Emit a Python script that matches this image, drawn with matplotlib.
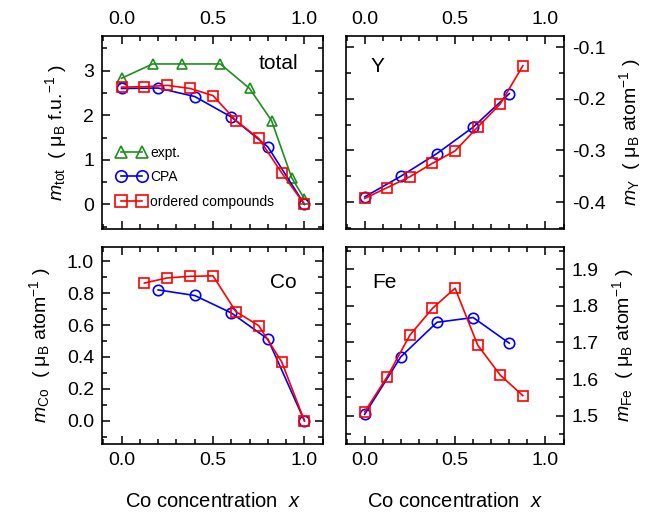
import numpy as np
import matplotlib
matplotlib.use('Agg')
import matplotlib.pyplot as plt
from matplotlib.ticker import MultipleLocator

plt.rcParams['font.family'] = ['Liberation Sans', 'DejaVu Sans']
plt.rcParams['mathtext.fontset'] = 'custom'
plt.rcParams['mathtext.rm'] = 'Liberation Sans'
plt.rcParams['mathtext.it'] = 'Liberation Sans:italic'
plt.rcParams['font.size'] = 14

# ---- data ----
x_expt = [0.0, 0.17, 0.33, 0.54, 0.70, 0.82, 0.93, 1.0]
tot_expt = [2.83, 3.15, 3.15, 3.15, 2.60, 1.88, 0.60, 0.12]

x_cpa = [0.0, 0.2, 0.4, 0.6, 0.8, 1.0]
tot_cpa = [2.60, 2.61, 2.42, 1.96, 1.29, 0.0]
co_cpa = [None, 0.82, 0.785, 0.676, 0.512, 0.0]
y_cpa = [-0.390, -0.350, -0.306, -0.255, -0.190]
fe_cpa = [1.504, 1.661, 1.755, 1.768, 1.698]

x_ord = [0.0, 0.125, 0.25, 0.375, 0.5, 0.625, 0.75, 0.875, 1.0]
tot_ord = [2.63, 2.64, 2.67, 2.60, 2.44, 1.88, 1.48, 0.71, 0.0]
co_ord = [None, 0.863, 0.895, 0.905, 0.908, 0.684, 0.596, 0.371, 0.0]
y_ord = [-0.393, -0.372, -0.351, -0.325, -0.301, -0.255, -0.210, -0.136]
fe_ord = [1.511, 1.607, 1.720, 1.793, 1.848, 1.693, 1.611, 1.555]

green = '#1e8f1e'
blue = '#0000ff'
red = '#ff0000'
mk = dict(mfc='none', ms=7.5, mew=1.2, lw=1.2)

fig = plt.figure(figsize=(6.56, 5.19), dpi=100)
ax_tot = fig.add_axes([0.156, 0.559, 0.336, 0.371])
ax_y = fig.add_axes([0.527, 0.559, 0.332, 0.371])
ax_co = fig.add_axes([0.156, 0.1445, 0.336, 0.380])
ax_fe = fig.add_axes([0.527, 0.1445, 0.332, 0.380])


def clean(xs, ys):
    pts = [(a, b) for a, b in zip(xs, ys) if b is not None]
    return [p[0] for p in pts], [p[1] for p in pts]


# total
ax_tot.plot(x_expt, tot_expt, '^-', color=green, label='expt.', **mk)
ax_tot.plot(x_cpa, tot_cpa, 'o-', color=blue, label='CPA', **mk)
ax_tot.plot(x_ord, tot_ord, 's-', color=red, label='ordered compounds', **mk)
ax_tot.set_ylim(-0.55, 3.77)
ax_tot.yaxis.set_major_locator(MultipleLocator(1))
ax_tot.yaxis.set_minor_locator(MultipleLocator(0.5))
ax_tot.text(0.887, 0.86, 'total', transform=ax_tot.transAxes, ha='right', va='center',
            fontsize=15)
ax_tot.legend(loc='lower left', bbox_to_anchor=(0.065, 0.105), numpoints=2, frameon=False,
              fontsize=10, handlelength=2.1, handletextpad=0.3, labelspacing=0.75,
              borderaxespad=0, borderpad=0, markerscale=1.1)
ax_tot.set_ylabel('$m_{\\rm tot}$  ( μ$_{\\rm B}$ f.u.$^{-1}$ )', labelpad=10)

# Y
ax_y.plot(x_cpa[:len(y_cpa)], y_cpa, 'o-', color=blue, **mk)
ax_y.plot(x_ord[:len(y_ord)], y_ord, 's-', color=red, **mk)
ax_y.set_ylim(-0.452, -0.079)
ax_y.yaxis.set_major_locator(MultipleLocator(0.1))
ax_y.yaxis.set_minor_locator(MultipleLocator(0.05))
ax_y.text(0.115, 0.845, 'Y', transform=ax_y.transAxes, va='center', fontsize=15)
ax_y.set_ylabel('$m_{\\rm Y}$  ( μ$_{\\rm B}$ atom$^{-1}$ )', labelpad=8)

# Co
xs, ys = clean(x_cpa, co_cpa)
ax_co.plot(xs, ys, 'o-', color=blue, **mk)
xs, ys = clean(x_ord, co_ord)
ax_co.plot(xs, ys, 's-', color=red, **mk)
ax_co.set_ylim(-0.145, 1.09)
ax_co.yaxis.set_major_locator(MultipleLocator(0.2))
ax_co.yaxis.set_minor_locator(MultipleLocator(0.1))
ax_co.text(0.882, 0.817, 'Co', transform=ax_co.transAxes, ha='right', va='center',
           fontsize=15)
ax_co.set_ylabel('$m_{\\rm Co}$  ( μ$_{\\rm B}$ atom$^{-1}$ )', labelpad=10)

# Fe
ax_fe.plot(x_cpa[:len(fe_cpa)], fe_cpa, 'o-', color=blue, **mk)
ax_fe.plot(x_ord[:len(fe_ord)], fe_ord, 's-', color=red, **mk)
ax_fe.set_ylim(1.423, 1.961)
ax_fe.yaxis.set_major_locator(MultipleLocator(0.1))
ax_fe.yaxis.set_minor_locator(MultipleLocator(0.05))
ax_fe.text(0.124, 0.817, 'Fe', transform=ax_fe.transAxes, va='center', fontsize=15)
ax_fe.set_ylabel('$m_{\\rm Fe}$  ( μ$_{\\rm B}$ atom$^{-1}$ )', labelpad=8)

for ax in (ax_tot, ax_y, ax_co, ax_fe):
    ax.set_xlim(-0.105, 1.1)
    ax.xaxis.set_major_locator(MultipleLocator(0.5))
    ax.xaxis.set_minor_locator(MultipleLocator(0.1))
    ax.xaxis.set_major_formatter(plt.FormatStrFormatter('%.1f'))
    ax.tick_params(which='both', direction='in', top=True, bottom=True,
                   left=True, right=True, width=1.1, labelsize=14, pad=6)
    ax.tick_params(which='major', length=6)
    ax.tick_params(which='minor', length=3.5)
    for s in ax.spines.values():
        s.set_linewidth(1.2)

ax_tot.yaxis.set_major_formatter(plt.FormatStrFormatter('%d'))
ax_co.yaxis.set_major_formatter(plt.FormatStrFormatter('%.1f'))
ax_y.yaxis.set_major_formatter(plt.FormatStrFormatter('%.1f'))
ax_fe.yaxis.set_major_formatter(plt.FormatStrFormatter('%.1f'))

for ax in (ax_tot, ax_y):
    ax.tick_params(labeltop=True, labelbottom=False)
for ax in (ax_y, ax_fe):
    ax.tick_params(labelleft=False, labelright=True)
    ax.yaxis.set_label_position('right')
for ax in (ax_co, ax_fe):
    ax.set_xlabel('Co concentration  $x$', labelpad=16, fontsize=14.5)

fig.savefig('out.png', dpi=100)
